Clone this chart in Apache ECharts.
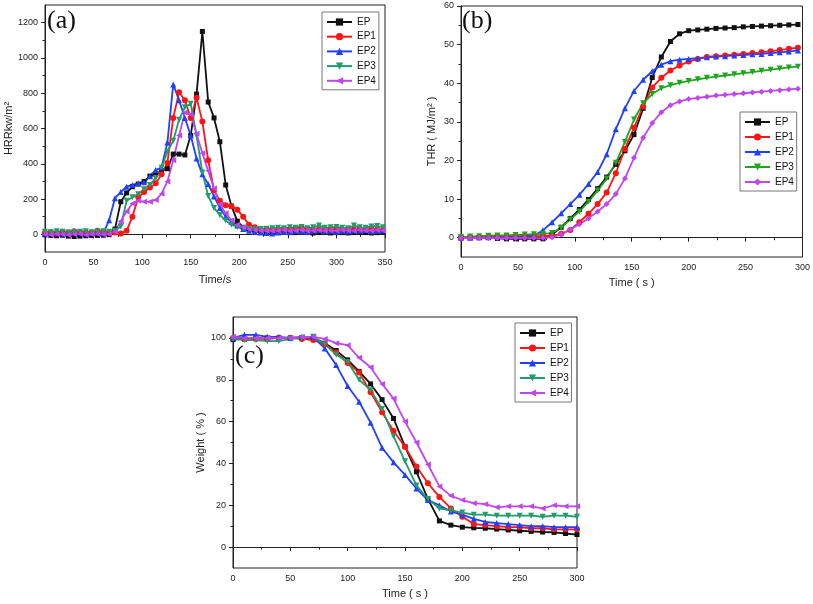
<!DOCTYPE html>
<html>
<head>
<meta charset="utf-8">
<script src="https://cdn.jsdelivr.net/npm/echarts@6/dist/echarts.min.js"></script>
<style>
html,body{margin:0;padding:0;background:#fff;}
#c{width:813px;height:604px;}
</style>
</head>
<body>
<div id="c"></div>
<script>
// ---------- (a) HRR ----------
const timeA = [0,6,12,18,24,30,36,42,48,54,60,66,72,78,84,90,96,102,108,114,120,126,132,138,144,150,156,162,168,174,180,186,192,198,204,210,216,222,228,234,240,246,252,258,264,270,276,282,288,294,300,306,312,318,324,330,336,342,348];
const hrrEP  = [-3,-6,-8,-5,-10,-12,-10,-8,-6,-6,-5,-2,30,185,235,270,285,300,330,340,360,372,455,455,450,560,795,1150,750,660,525,280,160,75,40,28,22,18,15,15,12,15,12,10,12,10,8,10,12,8,10,10,8,10,12,10,8,10,12];
const hrrEP1 = [10,12,5,15,10,18,12,8,10,20,15,10,10,5,20,100,210,240,265,290,340,405,660,805,760,660,775,640,420,250,190,165,160,140,100,55,40,30,28,25,25,30,28,35,40,30,25,28,25,30,28,25,30,28,30,25,30,28,25];
const hrrEP2 = [5,8,10,5,8,12,10,5,8,10,5,80,205,240,270,280,290,295,330,365,380,520,850,760,660,560,430,340,285,215,150,100,70,50,30,20,15,10,8,5,10,15,12,20,18,15,20,25,18,20,15,20,18,22,20,25,18,20,22];
const hrrEP3 = [15,12,18,15,10,12,15,18,12,15,18,15,20,45,190,210,228,255,280,320,378,470,530,650,720,740,560,350,217,150,110,78,55,42,35,30,28,30,32,35,38,35,40,38,42,35,40,50,38,40,42,38,35,50,40,38,45,48,40];
const hrrEP4 = [0,-2,2,0,-3,0,2,-2,0,2,0,0,15,75,130,175,190,185,185,195,230,300,420,560,690,680,570,460,360,260,170,120,80,55,40,30,25,22,20,20,22,25,20,22,25,20,22,25,20,22,20,25,22,20,25,22,20,25,22];

// ---------- (b) THR ----------
const timeB = [0,8,16,24,32,40,48,56,64,72,80,88,96,104,112,120,128,136,144,152,160,168,176,184,192,200,208,216,224,232,240,248,256,264,272,280,288,296];
const thrEP  = [0,0,0,0,-0.2,-0.3,-0.3,-0.3,-0.3,-0.3,0.8,2.7,5.0,7.3,9.9,12.7,15.7,19.0,22.5,26.7,33.5,41.5,46.8,50.8,52.8,53.6,53.8,54.0,54.2,54.3,54.4,54.6,54.7,54.8,54.9,55.0,55.1,55.2];
const thrEP1 = [0,0.1,0.2,0.3,0.3,0.3,0.3,0.4,0.4,0.4,0.5,1.0,2.0,4.0,6.2,8.7,11.7,16.7,23.0,28.5,34.0,38.9,41.4,43.3,44.6,45.6,46.3,46.8,47.0,47.2,47.4,47.6,47.8,48.0,48.3,48.6,48.9,49.2];
const thrEP2 = [0,0,0.1,0.2,0.3,0.3,0.3,0.4,0.5,1.9,4.0,6.3,8.7,11.1,13.9,17.0,21.6,28.1,33.5,38.0,40.9,43.1,44.8,45.7,46.1,46.3,46.5,46.7,46.9,47.0,47.2,47.3,47.5,47.6,47.8,48.0,48.2,48.5];
const thrEP3 = [0.2,0.3,0.4,0.5,0.6,0.6,0.7,0.8,0.9,1.0,1.2,2.6,4.7,6.8,9.3,12.2,15.3,19.4,24.8,30.6,34.8,37.2,38.7,39.5,40.1,40.6,41.0,41.4,41.7,42.0,42.3,42.6,42.9,43.2,43.5,43.8,44.1,44.3];
const thrEP4 = [-0.1,-0.1,-0.1,-0.1,-0.1,-0.1,-0.1,-0.1,-0.1,-0.1,0.1,0.9,2.1,3.5,5.0,6.8,8.7,11.3,15.3,20.7,25.9,29.7,32.5,34.3,35.3,35.9,36.2,36.5,36.8,37.0,37.2,37.4,37.6,37.8,38.0,38.2,38.4,38.6];

// ---------- (c) Weight ----------
const timeC = [0,10,20,30,40,50,60,70,80,90,100,110,120,130,140,150,160,170,180,190,200,210,220,230,240,250,260,270,280,290,300];
const wtEP  = [99.2,99.5,100,100,100,100,100,100,97.5,94,89.5,84,78,70.5,61.5,48,36,23,12.5,10.5,9.5,9.2,9,8.6,8.2,7.8,7.5,7.2,7,6.5,6];
const wtEP1 = [100,99.5,99.5,99.5,100,100,99.5,99,97,93,88,83.5,74,64.5,55.5,48,38.5,30.5,24,18.5,14.5,11,10.5,10,9.5,9.5,9,9,8.5,8.5,8.5];
const wtEP2 = [100,101.5,101.5,100.5,100.5,100,100.5,100.5,95,87,77,69.5,59.5,47.5,40.5,34.5,28,22.5,20,17,15.5,13.5,12,11.5,11,10.5,10,10,9.5,9.5,9.5];
const wtEP3 = [99.5,99,99,98.5,98.5,99.5,100,100.5,97,92,88.5,80,75,66,53,41,29.5,23,18.5,17.5,16.5,15.5,15.5,15,15,15,15,14.5,15,15,14.5];
const wtEP4 = [100.5,100,100,100,100,100,100.5,100.5,99.5,97.5,96.5,90.5,86,78,71,60,50,39.5,29,24.5,22.5,21,20.5,19,19.5,19.5,19.5,18.5,20,19.5,19.5];

const namesA = ['EP','EP1','EP2','EP3','EP4'];
const namesB = ['EP ','EP1 ','EP2 ','EP3 ','EP4 '];
const namesC = ['EP  ','EP1  ','EP2  ','EP3  ','EP4  '];

const tickLabelsA = [0,200,400,600,800,1000,1200];
const minorA = [100,300,500,700,900,1100];
const tickLabelsB = [0,10,20,30,40,50,60];
const minorB = [5,15,25,35,45,55];
const tickLabelsC = [0,20,40,60,80,100];
const minorC = [10,30,50,70,90];

const FONT = "'Liberation Sans Narrow','Arial Narrow','Liberation Sans',Arial,sans-serif";
const SERIF = "'Liberation Serif','Times New Roman',serif";
const colA = ['#111111','#ff1414','#2040ff','#219c6b','#c046f2'];
const colB = ['#111111','#ff1414','#2040ff','#1fa51f','#c046f2'];
const symbols = ['rect','circle','triangle','triangle','triangle'];
const rotA = [0,0,0,180,90];
const symB = ['rect','circle','triangle','triangle','diamond'];
const rotB = [0,0,0,180,0];

function mkSeries(names, times, arrs, cols, syms, rots, gi, size) {
  return arrs.map((arr, i) => ({
    type: 'line', name: names[i], xAxisIndex: gi, yAxisIndex: gi,
    data: times.map((t, k) => [t, arr[k]]),
    symbol: syms[i], symbolRotate: rots[i], symbolSize: (syms[i]==='rect') ? size-1 : size,
    showAllSymbol: true, animation: false,
    lineStyle: { color: cols[i], width: 1.8 },
    itemStyle: { color: cols[i] }
  }));
}

const axisLine = { show: true, lineStyle: { color: '#222', width: 1 } };
const labelStyle = { color: '#222', fontSize: 9, fontFamily: FONT, formatter: v => String(v) };
const nameStyle = { color: '#222', fontSize: 11, fontFamily: FONT };

function xAxis(gi, max, name, gap) {
  return {
    type: 'value', gridIndex: gi, min: 0, max: max, interval: 50,
    name: name, nameLocation: 'middle', nameGap: gap, nameTextStyle: nameStyle,
    axisLine: axisLine, axisTick: { show: true, length: 4, lineStyle: { color: '#222' } },
    minorTick: { show: true, splitNumber: 2, length: 2.5, lineStyle: { color: '#222' } },
    axisLabel: Object.assign({ margin: 6 }, labelStyle),
    splitLine: { show: false }, minorSplitLine: { show: false }
  };
}
function yAxisMain(gi, min, max, interval, labels, name, gap) {
  return {
    type: 'value', gridIndex: gi, min: min, max: max, interval: interval, position: 'left',
    name: name, nameLocation: 'middle', nameGap: gap, nameTextStyle: nameStyle,
    axisLine: axisLine,
    axisTick: { show: true, length: 4, customValues: labels, lineStyle: { color: '#222' } },
    axisLabel: Object.assign({ customValues: labels, margin: 7 }, labelStyle),
    splitLine: { show: false }
  };
}
function yAxisMinor(gi, min, max, interval, minors) {
  return {
    type: 'value', gridIndex: gi, min: min, max: max, interval: interval, position: 'left',
    axisLine: { show: false },
    axisTick: { show: true, length: 2.5, customValues: minors, lineStyle: { color: '#222' } },
    axisLabel: { show: false }, splitLine: { show: false }
  };
}

function legend(names, left, top, gap, padR) {
  return {
    data: names, orient: 'vertical', left: left, top: top,
    itemWidth: 25, itemHeight: 9, itemGap: gap,
    textStyle: { fontSize: 10, lineHeight: 10, fontFamily: FONT, color: '#111' },
    borderColor: '#777', borderWidth: 1, borderRadius: 0, padding: [5, padR, 4, 4],
    backgroundColor: '#fff', selectedMode: false
  };
}

const series = []
  .concat(mkSeries(namesA, timeA, [hrrEP, hrrEP1, hrrEP2, hrrEP3, hrrEP4], colA, symbols, rotA, 0, 6))
  .concat(mkSeries(namesB, timeB, [thrEP, thrEP1, thrEP2, thrEP3, thrEP4], colB, symB, rotB, 1, 6))
  .concat(mkSeries(namesC, timeC, [wtEP, wtEP1, wtEP2, wtEP3, wtEP4], colA, symbols, rotA, 2, 6));

const option = {
  backgroundColor: '#fff',
  animation: false,
  grid: [
    { left: 45, top: 5, width: 340, height: 247, show: true, borderColor: '#222', borderWidth: 1, backgroundColor: 'transparent' },
    { left: 461, top: 6, width: 342, height: 251, show: true, borderColor: '#222', borderWidth: 1, backgroundColor: 'transparent' },
    { left: 233, top: 317, width: 344, height: 251, show: true, borderColor: '#222', borderWidth: 1, backgroundColor: 'transparent' }
  ],
  xAxis: [
    xAxis(0, 350, 'Time/s', 22),
    xAxis(1, 300, 'Time ( s )', 20),
    xAxis(2, 300, 'Time ( s )', 20)
  ],
  yAxis: [
    yAxisMain(0, -100, 1300, 100, tickLabelsA, 'HRRkw/m²', 25),
    yAxisMain(1, -5, 60, 5, tickLabelsB, 'THR ( MJ/m² )', 24),
    yAxisMain(2, -10, 110, 10, tickLabelsC, 'Weight ( % )', 27),
    yAxisMinor(0, -100, 1300, 100, minorA),
    yAxisMinor(1, -5, 60, 5, minorB),
    yAxisMinor(2, -10, 110, 10, minorC)
  ],
  legend: [
    legend(namesA, 322, 12, 4.7, 3),
    legend(namesB, 740, 112, 5, 0),
    legend(namesC, 515, 323, 5, -3)
  ],
  graphic: [
    { type: 'text', left: 47, top: 8, style: { text: '(a)', fontSize: 26, fontFamily: SERIF, fill: '#111' } },
    { type: 'text', left: 462, top: 8, style: { text: '(b)', fontSize: 26, fontFamily: SERIF, fill: '#111' } },
    { type: 'text', left: 235, top: 343, style: { text: '(c)', fontSize: 26, fontFamily: SERIF, fill: '#111' } }
  ],
  series: series
};

const chart = echarts.init(document.getElementById('c'), null, { renderer: 'canvas' });
chart.setOption(option);
</script>
</body>
</html>
